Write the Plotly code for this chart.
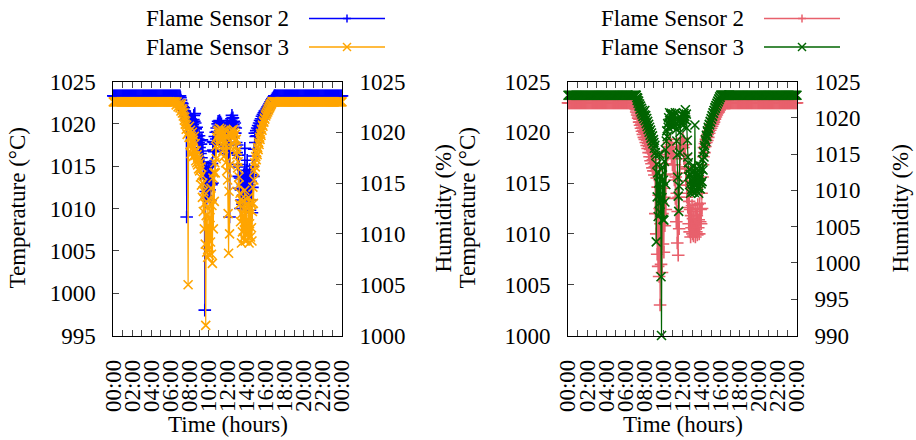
import plotly.graph_objects as go

# ---------------- data ----------------
TICK_HOURS = list(range(0, 25))
TICK_TEXT = ["00:00" if h in (0, 24) else (f"{h:02d}:00" if h % 2 == 0 else "") for h in TICK_HOURS]

# time grid in hours
T_AM = [round(i * 0.1, 2) for i in range(70)]           # 0.0 .. 6.9
T_DIP = [round(7.0 + i * 0.05, 3) for i in range(200)]  # 7.00 .. 16.95
T_PM = [round(17.0 + i * 0.1, 2) for i in range(71)]    # 17.0 .. 24.0

# ---- left panel ----
S2_LEFT_AM = [
    1023.3, 1023.3, 1023.3, 1023.3, 1023.3, 1023.3, 1023.3, 1023.3, 1023.3, 1023.3,
    1023.3, 1023.3, 1023.3, 1023.3, 1023.3, 1023.3, 1023.3, 1023.3, 1023.3, 1023.3,
    1023.3, 1023.3, 1023.3, 1023.3, 1023.3, 1023.3, 1023.3, 1023.3, 1023.3, 1023.3,
    1023.3, 1023.3, 1023.3, 1023.3, 1023.3, 1023.3, 1023.3, 1023.3, 1023.3, 1023.3,
    1023.3, 1023.3, 1023.3, 1023.3, 1023.3, 1023.3, 1023.3, 1023.3, 1023.3, 1023.3,
    1023.3, 1023.3, 1023.3, 1023.3, 1023.3, 1023.3, 1023.3, 1023.3, 1023.3, 1023.3,
    1023.3, 1023.3, 1023.3, 1023.3, 1023.3, 1023.3, 1023.3, 1023.3, 1023.3, 1023.3]
S2_LEFT_DIP = [
    1023.3, 1023.1, 1022.8, 1022.5, 1022.2, 1022.4, 1022.0, 1021.6, 1021.9, 1021.3,
    1021.5, 1020.9, 1021.2, 1020.6, 1009.0, 1020.8, 1021.1, 1020.4, 1020.7, 1020.2,
    1020.9, 1020.3, 1020.6, 1019.8, 1020.4, 1019.6, 1020.2, 1019.9, 1020.5, 1021.0,
    1020.3, 1021.2, 1020.1, 1019.4, 1018.8, 1019.6, 1018.5, 1019.0, 1018.2, 1017.8,
    1018.6, 1017.2, 1018.0, 1016.5, 1017.6, 1016.0, 1018.1, 1015.5, 1016.8, 1014.8,
    1015.4, 1013.5, 998.0, 1014.2, 1012.0, 1014.8, 1011.2, 1013.6, 1012.4, 1014.9,
    1011.5, 1013.8, 1012.2, 1015.0, 1011.0, 1014.0, 1012.8, 1015.3, 1013.0, 1017.9,
    1016.9, 1017.8, 1016.7, 1018.5, 1017.6, 1019.0, 1018.2, 1019.5, 1019.1, 1020.0,
    1020.3, 1019.7, 1020.1, 1020.4, 1019.8, 1020.2, 1019.6, 1020.0, 1019.4, 1018.8,
    1019.3, 1017.5, 1018.6, 1016.9, 1018.0, 1017.4, 1019.0, 1018.3, 1019.6, 1020.0,
    1018.8, 1016.5, 1019.2, 1017.8, 1009.0, 1019.8, 1020.4, 1020.0, 1020.6, 1021.0,
    1020.2, 1020.7, 1019.9, 1020.3, 1019.6, 1020.1, 1018.9, 1019.5, 1017.8, 1016.6,
    1017.5, 1015.2, 1016.3, 1013.8, 1014.9, 1012.4, 1013.6, 1010.0, 1012.2, 1011.0,
    1013.5, 1010.5, 1012.8, 1011.6, 1014.0, 1012.0, 1017.1, 1013.2, 1011.4, 1014.5,
    1012.6, 1015.7, 1011.2, 1013.9, 1010.4, 1012.8, 1014.6, 1009.8, 1013.2, 1011.0,
    1014.0, 1009.5, 1012.5, 1015.0, 1013.8, 1016.2, 1017.0, 1018.9, 1017.8, 1018.5,
    1019.2, 1018.6, 1019.5, 1018.9, 1019.8, 1019.4, 1020.1, 1019.7, 1020.4, 1020.0,
    1020.6, 1020.3, 1020.9, 1020.6, 1021.1, 1020.8, 1021.3, 1021.0, 1021.5, 1021.3,
    1021.6, 1021.3, 1021.8, 1021.6, 1022.0, 1021.9, 1022.2, 1022.0, 1022.4, 1022.3,
    1022.6, 1022.5, 1022.8, 1022.7, 1023.0, 1022.9, 1023.1, 1023.2, 1023.3, 1023.3]
S2_LEFT_PM = [
    1023.3, 1023.3, 1023.3, 1023.3, 1023.3, 1023.3, 1023.3, 1023.3, 1023.3, 1023.3,
    1023.3, 1023.3, 1023.3, 1023.3, 1023.3, 1023.3, 1023.3, 1023.3, 1023.3, 1023.3,
    1023.3, 1023.3, 1023.3, 1023.3, 1023.3, 1023.3, 1023.3, 1023.3, 1023.3, 1023.3,
    1023.3, 1023.3, 1023.3, 1023.3, 1023.3, 1023.3, 1023.3, 1023.3, 1023.3, 1023.3,
    1023.3, 1023.3, 1023.3, 1023.3, 1023.3, 1023.3, 1023.3, 1023.3, 1023.3, 1023.3,
    1023.3, 1023.3, 1023.3, 1023.3, 1023.3, 1023.3, 1023.3, 1023.3, 1023.3, 1023.3,
    1023.3, 1023.3, 1023.3, 1023.3, 1023.3, 1023.3, 1023.3, 1023.3, 1023.3, 1023.3,
    1023.3]

S3_LEFT_AM = [
    1023.0, 1023.0, 1023.0, 1023.0, 1023.0, 1023.0, 1023.0, 1023.0, 1023.0, 1023.0,
    1023.0, 1023.0, 1023.0, 1023.0, 1023.0, 1023.0, 1023.0, 1023.0, 1023.0, 1023.0,
    1023.0, 1023.0, 1023.0, 1023.0, 1023.0, 1023.0, 1023.0, 1023.0, 1023.0, 1023.0,
    1023.0, 1023.0, 1023.0, 1023.0, 1023.0, 1023.0, 1023.0, 1023.0, 1023.0, 1023.0,
    1023.0, 1023.0, 1023.0, 1023.0, 1023.0, 1023.0, 1023.0, 1023.0, 1023.0, 1023.0,
    1023.0, 1023.0, 1023.0, 1023.0, 1023.0, 1023.0, 1023.0, 1023.0, 1023.0, 1023.0,
    1023.0, 1023.0, 1023.0, 1023.0, 1023.0, 1023.0, 1022.7, 1023.0, 1022.5, 1022.8]
S3_LEFT_DIP = [
    1022.4, 1022.6, 1022.1, 1022.8, 1022.3, 1021.9, 1022.2, 1021.6, 1021.9, 1021.2,
    1021.5, 1020.8, 1021.1, 1020.3, 1020.7, 1019.8, 1020.4, 1005.0, 1020.0, 1019.5,
    1020.6, 1018.8, 1020.2, 1017.9, 1019.6, 1018.4, 1020.0, 1017.6, 1019.2, 1018.1,
    1019.6, 1017.7, 1018.9, 1017.2, 1018.2, 1017.0, 1017.8, 1016.8, 1017.5, 1016.4,
    1017.3, 1016.2, 1017.0, 1015.6, 1016.6, 1014.8, 1015.8, 1013.6, 1015.0, 1012.2,
    1014.2, 1010.5, 1013.0, 1009.0, 1001.0, 1011.8, 1008.2, 1012.6, 1007.7, 1010.8,
    1008.5, 1013.4, 1007.9, 1011.6, 1009.2, 1014.5, 1008.0, 1012.8, 1007.1, 1015.5,
    1010.5, 1016.0, 1013.2, 1017.0, 1016.0, 1018.6, 1017.4, 1019.5, 1018.8, 1020.1,
    1019.7, 1020.2, 1019.9, 1020.4, 1019.6, 1020.0, 1018.8, 1020.3, 1019.4, 1020.1,
    1018.2, 1019.8, 1017.6, 1019.9, 1018.8, 1020.2, 1017.0, 1019.5, 1016.2, 1018.6,
    1015.3, 1012.0, 1008.1, 1014.2, 1010.0, 1016.8, 1018.6, 1019.9, 1020.2, 1019.8,
    1020.1, 1019.7, 1020.3, 1019.5, 1020.0, 1019.2, 1019.8, 1018.6, 1019.3, 1017.8,
    1018.2, 1016.5, 1017.1, 1014.8, 1015.6, 1012.9, 1014.0, 1011.2, 1013.4, 1009.1,
    1012.0, 1010.2, 1013.2, 1009.6, 1011.8, 1010.4, 1014.3, 1009.3, 1012.6, 1010.0,
    1013.0, 1009.4, 1011.4, 1010.0, 1013.6, 1009.1, 1011.0, 1012.4, 1009.7, 1013.0,
    1010.6, 1009.3, 1012.2, 1014.6, 1013.0, 1015.3, 1016.2, 1017.0, 1016.6, 1017.6,
    1017.3, 1018.0, 1017.8, 1018.5, 1018.3, 1019.0, 1018.8, 1019.5, 1019.3, 1019.9,
    1019.7, 1020.3, 1020.2, 1020.7, 1020.6, 1021.1, 1021.0, 1021.4, 1021.3, 1021.7,
    1021.6, 1021.9, 1021.8, 1022.1, 1022.0, 1022.3, 1022.2, 1022.5, 1022.4, 1022.7,
    1022.6, 1022.8, 1022.8, 1023.0, 1023.0, 1023.0, 1023.0, 1023.0, 1023.0, 1023.0]
S3_LEFT_PM = [
    1023.0, 1023.0, 1023.0, 1023.0, 1023.0, 1023.0, 1023.0, 1023.0, 1023.0, 1023.0,
    1023.0, 1023.0, 1023.0, 1023.0, 1023.0, 1023.0, 1023.0, 1023.0, 1023.0, 1023.0,
    1023.0, 1023.0, 1023.0, 1023.0, 1023.0, 1023.0, 1023.0, 1023.0, 1023.0, 1023.0,
    1023.0, 1023.0, 1023.0, 1023.0, 1023.0, 1023.0, 1023.0, 1023.0, 1023.0, 1023.0,
    1023.0, 1023.0, 1023.0, 1023.0, 1023.0, 1023.0, 1023.0, 1023.0, 1023.0, 1023.0,
    1023.0, 1023.0, 1023.0, 1023.0, 1023.0, 1023.0, 1023.0, 1023.0, 1023.0, 1023.0,
    1023.0, 1023.0, 1023.0, 1023.0, 1023.0, 1023.0, 1023.0, 1023.0, 1023.0, 1023.0,
    1023.0]

# ---- right panel ----
S2_RIGHT_AM = [
    1022.9, 1022.9, 1022.9, 1022.9, 1022.9, 1022.9, 1022.9, 1022.9, 1022.9, 1022.9,
    1022.9, 1022.9, 1022.9, 1022.9, 1022.9, 1022.9, 1022.9, 1022.9, 1022.9, 1022.9,
    1022.9, 1022.9, 1022.9, 1022.9, 1022.9, 1022.9, 1022.9, 1022.9, 1022.9, 1022.9,
    1022.9, 1022.9, 1022.9, 1022.9, 1022.9, 1022.9, 1022.9, 1022.9, 1022.9, 1022.9,
    1022.9, 1022.9, 1022.9, 1022.9, 1022.9, 1022.9, 1022.9, 1022.9, 1022.9, 1022.9,
    1022.9, 1022.9, 1022.9, 1022.9, 1022.9, 1022.9, 1022.9, 1022.9, 1022.9, 1022.9,
    1022.9, 1022.9, 1022.9, 1022.9, 1022.9, 1022.9, 1022.9, 1022.9, 1022.9, 1022.9]
S2_RIGHT_DIP = [
    1022.9, 1022.6, 1022.3, 1022.0, 1022.2, 1021.7, 1021.9, 1021.4, 1021.6, 1021.0,
    1021.3, 1020.7, 1021.0, 1020.4, 1020.8, 1020.1, 1020.5, 1019.8, 1020.2, 1019.5,
    1020.0, 1019.3, 1019.8, 1019.0, 1019.5, 1018.7, 1019.2, 1018.4, 1018.9, 1018.0,
    1018.6, 1017.6, 1018.3, 1017.2, 1018.0, 1016.9, 1017.6, 1016.5, 1017.3, 1016.2,
    1017.0, 1015.8, 1016.6, 1012.0, 1016.2, 1010.0, 1015.5, 1008.0, 1014.6, 1006.8,
    1013.8, 1005.8, 1012.5, 1003.0, 1011.0, 1007.0, 1013.0, 1006.2, 1012.0, 1009.0,
    1014.5, 1008.2, 1013.6, 1010.8, 1015.8, 1012.4, 1016.9, 1017.6, 1018.2, 1017.8,
    1018.6, 1018.2, 1019.0, 1018.5, 1019.3, 1018.0, 1018.8, 1017.4, 1018.5, 1016.8,
    1018.3, 1015.9, 1017.6, 1015.3, 1016.8, 1013.5, 1015.6, 1011.2, 1014.0, 1009.1,
    1012.2, 1007.9, 1013.6, 1010.5, 1016.0, 1017.8, 1018.6, 1019.0, 1018.4, 1019.2,
    1018.7, 1019.4, 1018.5, 1017.4, 1018.8, 1016.6, 1017.8, 1015.2, 1016.4, 1013.6,
    1014.8, 1012.6, 1014.0, 1011.0, 1013.2, 1010.2, 1012.4, 1009.7, 1011.8, 1010.6,
    1012.8, 1010.0, 1011.5, 1009.8, 1012.2, 1010.4, 1011.0, 1009.7, 1012.5, 1010.2,
    1011.8, 1009.9, 1012.9, 1010.6, 1011.4, 1010.0, 1013.0, 1011.2, 1012.4, 1011.0,
    1014.0, 1012.5, 1015.6, 1016.8, 1017.6, 1018.5, 1018.0, 1018.9, 1018.6, 1019.3,
    1019.0, 1019.6, 1019.2, 1019.8, 1019.5, 1020.1, 1019.9, 1020.4, 1020.2, 1020.6,
    1020.4, 1020.8, 1020.6, 1021.0, 1020.8, 1021.2, 1021.0, 1021.4, 1021.3, 1021.6,
    1021.5, 1021.8, 1021.7, 1022.0, 1021.9, 1022.1, 1022.0, 1022.3, 1022.2, 1022.4,
    1022.4, 1022.5, 1022.6, 1022.7, 1022.7, 1022.8, 1022.8, 1022.9, 1022.9, 1022.9,
    1022.9, 1022.9, 1022.9, 1022.9, 1022.9, 1022.9, 1022.9, 1022.9, 1022.9, 1022.9]
S2_RIGHT_PM = [
    1022.9, 1022.9, 1022.9, 1022.9, 1022.9, 1022.9, 1022.9, 1022.9, 1022.9, 1022.9,
    1022.9, 1022.9, 1022.9, 1022.9, 1022.9, 1022.9, 1022.9, 1022.9, 1022.9, 1022.9,
    1022.9, 1022.9, 1022.9, 1022.9, 1022.9, 1022.9, 1022.9, 1022.9, 1022.9, 1022.9,
    1022.9, 1022.9, 1022.9, 1022.9, 1022.9, 1022.9, 1022.9, 1022.9, 1022.9, 1022.9,
    1022.9, 1022.9, 1022.9, 1022.9, 1022.9, 1022.9, 1022.9, 1022.9, 1022.9, 1022.9,
    1022.9, 1022.9, 1022.9, 1022.9, 1022.9, 1022.9, 1022.9, 1022.9, 1022.9, 1022.9,
    1022.9, 1022.9, 1022.9, 1022.9, 1022.9, 1022.9, 1022.9, 1022.9, 1022.9, 1022.9,
    1022.9]

S3_RIGHT_AM = [
    1023.1, 1023.1, 1023.1, 1023.1, 1023.1, 1023.1, 1023.1, 1023.1, 1023.1, 1023.1,
    1023.1, 1023.1, 1023.1, 1023.1, 1023.1, 1023.1, 1023.1, 1023.1, 1023.1, 1023.1,
    1023.1, 1023.1, 1023.1, 1023.1, 1023.1, 1023.1, 1023.1, 1023.1, 1023.1, 1023.1,
    1023.1, 1023.1, 1023.1, 1023.1, 1023.1, 1023.1, 1023.1, 1023.1, 1023.1, 1023.1,
    1023.1, 1023.1, 1023.1, 1023.1, 1023.1, 1023.1, 1023.1, 1023.1, 1023.1, 1023.1,
    1023.1, 1023.1, 1023.1, 1023.1, 1023.1, 1023.1, 1023.1, 1023.1, 1023.1, 1023.1,
    1023.1, 1023.1, 1023.1, 1023.1, 1023.1, 1023.1, 1023.1, 1023.1, 1023.1, 1023.1]
S3_RIGHT_DIP = [
    1023.1, 1023.1, 1023.1, 1023.1, 1022.8, 1022.4, 1022.7, 1022.0, 1022.3, 1021.6,
    1021.9, 1021.2, 1021.6, 1020.8, 1021.3, 1020.5, 1021.0, 1020.2, 1020.7, 1019.9,
    1020.4, 1021.0, 1019.6, 1020.3, 1019.2, 1019.9, 1018.8, 1019.5, 1018.4, 1019.1,
    1018.0, 1018.7, 1017.6, 1018.3, 1017.2, 1017.9, 1016.8, 1017.5, 1016.4, 1017.0,
    1016.6, 1015.8, 1016.2, 1015.2, 1014.8, 1002.9, 1013.6, 1009.1, 1012.4, 1006.4,
    1011.0, 1008.2, 1015.0, 1007.0, 1012.0, 998.1, 990.0, 1009.0, 1013.2, 1006.0,
    1011.4, 1005.9, 1014.0, 1008.4, 1015.6, 1010.8, 1016.8, 1018.2, 1017.4, 1019.2,
    1018.7, 1020.0, 1019.3, 1020.7, 1019.6, 1020.4, 1018.9, 1020.6, 1019.4, 1020.2,
    1018.8, 1020.5, 1019.6, 1020.2, 1018.9, 1020.7, 1019.2, 1018.4, 1016.8, 1014.9,
    1011.8, 1009.2, 1007.1, 1010.6, 1015.2, 1018.0, 1019.4, 1020.0, 1019.1, 1020.4,
    1019.5, 1020.3, 1019.0, 1020.6, 1019.8, 1020.2, 1021.1, 1019.7, 1020.5, 1018.6,
    1016.9, 1014.6, 1013.8, 1011.9, 1012.9, 1010.8, 1012.2, 1009.6, 1011.4, 1010.1,
    1012.6, 1009.8, 1011.6, 1010.4, 1013.3, 1009.7, 1019.0, 1010.6, 1012.4, 1009.9,
    1011.2, 1013.0, 1010.3, 1012.1, 1009.6, 1011.5, 1013.4, 1010.2, 1012.0, 1010.9,
    1013.0, 1011.2, 1014.2, 1012.8, 1015.3, 1014.6, 1016.2, 1015.8, 1017.0, 1016.7,
    1017.6, 1017.4, 1018.2, 1018.0, 1018.7, 1018.5, 1019.1, 1019.0, 1019.5, 1019.4,
    1019.9, 1019.8, 1020.3, 1020.2, 1020.7, 1020.6, 1021.0, 1021.0, 1021.4, 1021.3,
    1021.7, 1021.6, 1022.0, 1021.9, 1022.3, 1022.2, 1022.6, 1022.5, 1022.9, 1022.8,
    1023.1, 1023.1, 1023.1, 1023.1, 1023.1, 1023.1, 1023.1, 1023.1, 1023.1, 1023.1,
    1023.1, 1023.1, 1023.1, 1023.1, 1023.1, 1023.1, 1023.1, 1023.1, 1023.1, 1023.1]
S3_RIGHT_PM = [
    1023.1, 1023.1, 1023.1, 1023.1, 1023.1, 1023.1, 1023.1, 1023.1, 1023.1, 1023.1,
    1023.1, 1023.1, 1023.1, 1023.1, 1023.1, 1023.1, 1023.1, 1023.1, 1023.1, 1023.1,
    1023.1, 1023.1, 1023.1, 1023.1, 1023.1, 1023.1, 1023.1, 1023.1, 1023.1, 1023.1,
    1023.1, 1023.1, 1023.1, 1023.1, 1023.1, 1023.1, 1023.1, 1023.1, 1023.1, 1023.1,
    1023.1, 1023.1, 1023.1, 1023.1, 1023.1, 1023.1, 1023.1, 1023.1, 1023.1, 1023.1,
    1023.1, 1023.1, 1023.1, 1023.1, 1023.1, 1023.1, 1023.1, 1023.1, 1023.1, 1023.1,
    1023.1, 1023.1, 1023.1, 1023.1, 1023.1, 1023.1, 1023.1, 1023.1, 1023.1, 1023.1,
    1023.1]

SERIES_NAMES = ["Flame Sensor 2", "Flame Sensor 3"]
Y_LEFT_RANGE_A = [995, 1025]
Y_RIGHT_RANGE_A = [1000, 1025]
Y_LEFT_RANGE_B = [1000, 1025]
Y_RIGHT_RANGE_B = [990, 1025]

# ---------------- styling ----------------
W, H = 916, 440
FONT = "Liberation Serif"
FS = 23
BLUE, ORANGE, RED, GREEN = "#0000ff", "#ffa500", "#e8606c", "#006400"

def px(x):
    return x / W

def py(y):
    return 1 - y / H

T_ALL = T_AM + T_DIP + T_PM

fig = go.Figure()

def add_series(y, color, symbol, xa, ya, name):
    fig.add_trace(go.Scatter(
        x=T_ALL, y=y, mode="lines+markers", name=name, xaxis=xa, yaxis=ya,
        line=dict(color=color, width=1.2),
        marker=dict(symbol=symbol, size=9, color=color, line=dict(color=color, width=1.6)),
        cliponaxis=False, showlegend=False))

add_series(S2_LEFT_AM + S2_LEFT_DIP + S2_LEFT_PM, BLUE, "cross-thin", "x", "y", SERIES_NAMES[0])
add_series(S3_LEFT_AM + S3_LEFT_DIP + S3_LEFT_PM, ORANGE, "x-thin", "x", "y2", SERIES_NAMES[1])
add_series(S2_RIGHT_AM + S2_RIGHT_DIP + S2_RIGHT_PM, RED, "cross-thin", "x2", "y3", SERIES_NAMES[0])
add_series(S3_RIGHT_AM + S3_RIGHT_DIP + S3_RIGHT_PM, GREEN, "x-thin", "x2", "y4", SERIES_NAMES[1])

TOP, BOT = 81.5, 335.5
YDOM = [py(BOT), py(TOP)]
tickfont = dict(family=FONT, size=FS, color="black")

def xaxis_def(x0, x1, anchor):
    return dict(domain=[px(x0), px(x1)], anchor=anchor, range=[0, 24], automargin=False,
                tickmode="array", tickvals=TICK_HOURS, ticktext=TICK_TEXT,
                tickangle=-90, ticks="inside", ticklen=6, tickcolor="#444", tickwidth=1,
                showline=True, linecolor="black", linewidth=1, mirror="ticks",
                showgrid=False, zeroline=False, tickfont=tickfont, ticklabelstandoff=14)

def yaxis_def(rng, anchor, side="left", overlay=None):
    d = dict(domain=YDOM, anchor=anchor, range=rng, tickmode="linear", tick0=rng[0], dtick=5,
             ticks="inside", ticklen=6, tickcolor="#444", tickwidth=1, automargin=False,
             showline=True, linecolor="black", linewidth=1, mirror=False,
             showgrid=False, zeroline=False, tickfont=tickfont, side=side,
             ticklabelstandoff=12)
    if overlay:
        d["overlaying"] = overlay
    return d

LX0, LX1 = 113.3, 342.0
RX0, RX1 = 568.0, 797.0

fig.update_layout(
    width=W, height=H, margin=dict(l=0, r=0, t=0, b=0, pad=0, autoexpand=False),
    paper_bgcolor="white", plot_bgcolor="rgba(0,0,0,0)",
    showlegend=False,
    font=dict(family=FONT, size=FS, color="black"),
    xaxis=xaxis_def(LX0, LX1, "y"),
    yaxis=yaxis_def(Y_LEFT_RANGE_A, "x"),
    yaxis2=yaxis_def(Y_RIGHT_RANGE_A, "x", side="right", overlay="y"),
    xaxis2=xaxis_def(RX0, RX1, "y3"),
    yaxis3=yaxis_def(Y_LEFT_RANGE_B, "x2"),
    yaxis4=yaxis_def(Y_RIGHT_RANGE_B, "x2", side="right", overlay="y3"),
)

annotations = []
shapes = []

def text(x, y, s, angle=0, xanchor="center"):
    annotations.append(dict(x=px(x), y=py(y), xref="paper", yref="paper", text=s,
                            showarrow=False, textangle=angle, xanchor=xanchor, yanchor="middle",
                            font=dict(family=FONT, size=FS, color="black")))

# axis titles
text(17, 208.5, "Temperature (°C)", angle=-90)
text(443, 208.5, "Humidity (%)", angle=-90)
text(467, 208.5, "Temperature (°C)", angle=-90)
text(900, 208.5, "Humidity (%)", angle=-90)
text((LX0 + LX1) / 2, 424, "Time (hours)")
text((RX0 + RX1) / 2, 424, "Time (hours)")

# custom legends (text left, sample right, gnuplot style)
def legend_entry(text_right, line_x0, line_x1, y, color, symbol):
    text(text_right, y, SERIES_NAMES[0] if symbol == "+" else SERIES_NAMES[1], xanchor="right")
    shapes.append(dict(type="line", xref="paper", yref="paper", x0=px(line_x0), x1=px(line_x1),
                       y0=py(y), y1=py(y), line=dict(color=color, width=1.5)))
    cx = (line_x0 + line_x1) / 2
    r = 4
    if symbol == "+":
        segs = [((cx - r, y), (cx + r, y)), ((cx, y - r), (cx, y + r))]
    else:
        segs = [((cx - r, y - r), (cx + r, y + r)), ((cx - r, y + r), (cx + r, y - r))]
    for (a, b) in segs:
        shapes.append(dict(type="line", xref="paper", yref="paper", x0=px(a[0]), y0=py(a[1]),
                           x1=px(b[0]), y1=py(b[1]), line=dict(color=color, width=1.5)))

legend_entry(291, 309, 385, 18.5, BLUE, "+")
legend_entry(291, 309, 385, 47, ORANGE, "x")
legend_entry(746, 764, 840, 18.5, RED, "+")
legend_entry(746, 764, 840, 47, GREEN, "x")

fig.update_layout(annotations=annotations, shapes=shapes)

fig.write_html("out.html")
